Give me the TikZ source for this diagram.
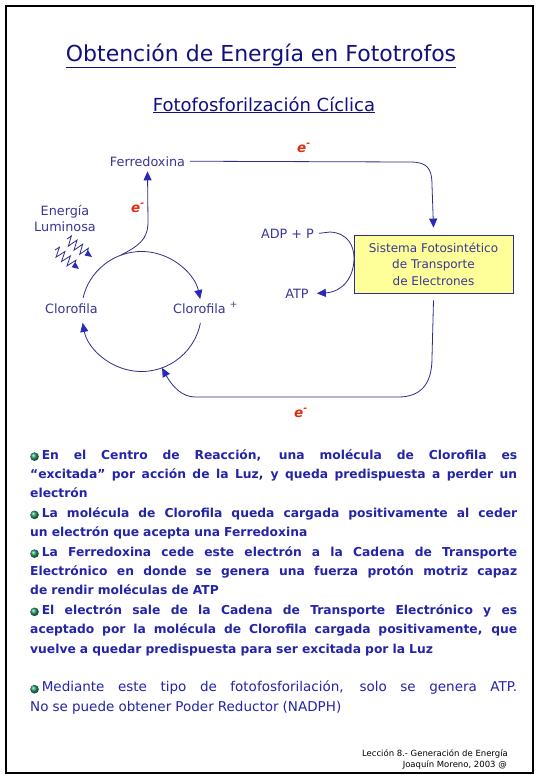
\documentclass[tikz,border=0pt]{standalone}
\usepackage{fontspec}
\setmainfont{DejaVu Sans}
\usetikzlibrary{arrows.meta,decorations.pathmorphing}
\definecolor{navyc}{RGB}{16,16,128}
\definecolor{bodyc}{RGB}{36,36,168}
\definecolor{lblc}{RGB}{55,55,150}
\definecolor{linec}{RGB}{45,45,140}
\definecolor{tipc}{RGB}{40,40,185}
\definecolor{redc}{RGB}{225,45,15}
\definecolor{boxfill}{RGB}{255,255,153}
\definecolor{ballc}{RGB}{30,150,100}
\newcommand\mybul{\tikz[baseline=-0.35ex]\shade[ball color=ballc] (0,0) circle (4.3pt);\hspace{3pt}}
\newcommand\jl[1]{\leavevmode\hbox to 487pt{\spaceskip=.32em plus 1fil\relax #1}}
\begin{document}
\begin{tikzpicture}[x=1pt,y=-1pt,
  lbl/.style={text=lblc,font=\fontsize{12.8}{15}\selectfont,inner sep=0pt},
  conn/.style={draw=linec,line width=0.8pt},
  tip/.style={-{Triangle[length=9pt,width=8pt,color=tipc]}},
  smalltip/.style={-{Triangle[length=7pt,width=6pt,color=tipc]}},
  ecl/.style={text=redc,font=\fontsize{13.5}{15}\selectfont\bfseries\itshape,inner sep=0pt}]
\useasboundingbox (0,0) rectangle (540,780);
\fill[white] (0,0) rectangle (540,780);
\draw[black,line width=1.2pt] (6,6) rectangle (533,773);

% titles
\node[text=navyc,font=\fontsize{22}{26}\selectfont,anchor=base,inner sep=0pt] (title) at (261,61) {\underline{Obtención de Energía en Fototrofos}};
\node[text=navyc,font=\fontsize{18}{21}\selectfont,anchor=base,inner sep=0pt] (sub) at (264,111) {\underline{Fotofosforilzación Cíclica}};

% diagram labels
\node[lbl,anchor=base] (ferr) at (147.5,166) {Ferredoxina};
\node[lbl,anchor=base] (ener) at (65,215) {Energía};
\node[lbl,anchor=base] (lumi) at (65,231) {Luminosa};
\node[lbl,anchor=base] (adp) at (287.5,238) {ADP + P};
\node[lbl,anchor=base] (atp) at (297,298) {ATP};
\node[lbl,anchor=base west] (clor1) at (45,313) {Clorofila};
\node[lbl,anchor=base west] (clor2) at (173,313) {Clorofila\hspace{4pt}\raisebox{6pt}{\fontsize{9}{9}\selectfont +}};
\node[draw=linec,fill=boxfill,line width=0.8pt,minimum width=159pt,minimum height=58pt,align=center,text=lblc,font=\fontsize{12}{16.5}\selectfont,inner sep=0pt] (box) at (433.5,264) {Sistema Fotosintético\\de Transporte\\de Electrones};

\node[ecl,anchor=base west] (e1) at (297,152) {e\textsuperscript{-}};
\node[ecl,anchor=base west] (e2) at (131,212) {e\textsuperscript{-}};
\node[ecl,anchor=base west] (e3) at (294,417) {e\textsuperscript{-}};

% cycle
\coordinate (cc) at (141.5,311.5);
\draw[conn,tip] ([shift={(193:60)}]cc) arc[start angle=193,end angle=348,radius=60];
\draw[conn,tip] ([shift={(11:60)}]cc) arc[start angle=11,end angle=169,radius=60];
\coordinate (ctop) at ([shift={(250:60)}]cc);
\coordinate (cbot) at ([shift={(70:60)}]cc);

% connectors
\draw[conn,tip] (ctop) .. controls (138,246) and (148,240) .. (148,222) -- ([yshift=-5pt]ferr.south);
\draw[conn,tip] ([xshift=5pt]ferr.east) -- (410,162) .. controls (427,162) and (432,168) .. (432,185) -- ([yshift=7pt]box.north);
\draw[conn,tip] ([yshift=-7pt]box.south) -- (432,358) .. controls (432,385) and (420,397) .. (398,397) -- (195,397) .. controls (182,397) and (172,386) .. (cbot);
\draw[conn,tip] ([xshift=5pt]adp.east) -- (330,232) .. controls (348,233) and (354,246) .. (354,258) .. controls (354,278) and (342,292) .. ([xshift=8pt]atp.east);

% light
\draw[conn,smalltip,decorate,decoration={zigzag,segment length=7pt,amplitude=5pt,post length=6pt}] (67,239) -- (92,257);
\draw[conn,smalltip,decorate,decoration={zigzag,segment length=7pt,amplitude=5pt,post length=6pt}] (55,250) -- (79,269);

% body text
\node[anchor=base west,inner sep=0pt,text width=487pt,align=left,text=bodyc,font=\fontsize{12.3}{19.4}\selectfont\bfseries] (body) at (30,459) {%
\jl{\mybul En el Centro de Reacción, una molécula de Clorofila es}\\
\jl{“excitada” por acción de la Luz, y queda predispuesta a perder un}\\
electrón\\
\jl{\mybul La molécula de Clorofila queda cargada positivamente al ceder}\\
un electrón que acepta una Ferredoxina\\
\jl{\mybul La Ferredoxina cede este electrón a la Cadena de Transporte}\\
\jl{Electrónico en donde se genera una fuerza protón motriz capaz}\\
de rendir moléculas de ATP\\
\jl{\mybul El electrón sale de la Cadena de Transporte Electrónico y es}\\
\jl{aceptado por la molécula de Clorofila cargada positivamente, que}\\
vuelve a quedar predispuesta para ser excitada por la Luz\\[19.4pt]
{\mdseries\fontsize{13.5}{19.4}\selectfont\jl{\mybul Mediante este tipo de fotofosforilación, solo se genera ATP.}}\\
{\mdseries\fontsize{13.5}{19.4}\selectfont No se puede obtener Poder Reductor (NADPH)}};

% footer
\node[anchor=base east,inner sep=0pt,font=\fontsize{8.5}{10}\selectfont,text=black] (foot1) at (508,756) {Lección 8.- Generación de Energía};
\node[anchor=base east,inner sep=0pt,font=\fontsize{8.5}{10}\selectfont,text=black] (foot2) at (507,767) {Joaquín Moreno, 2003 @};
\end{tikzpicture}
\end{document}
